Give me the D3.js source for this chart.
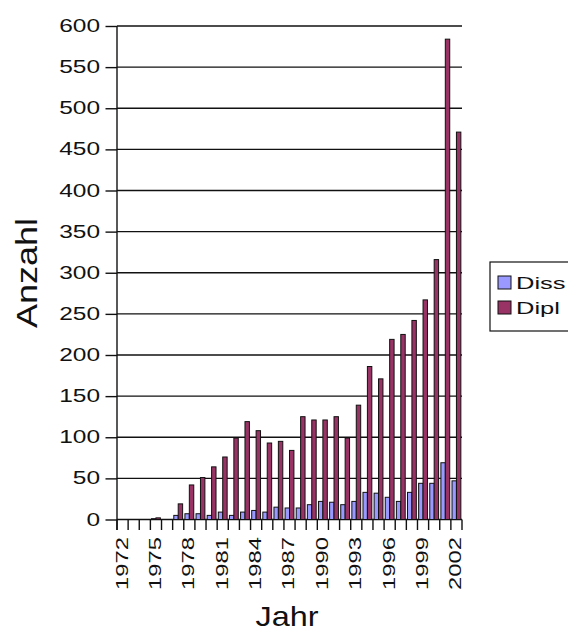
<!DOCTYPE html>
<html>
<head>
<meta charset="utf-8">
<script src="https://cdn.jsdelivr.net/npm/d3@7/dist/d3.min.js"></script>
<style>
  html, body { margin: 0; padding: 0; background: #fff; }
  svg { display: block; font-family: "Liberation Sans", Arial, sans-serif; }
</style>
</head>
<body>
<script>
// Abschlussarbeiten pro Jahr
const years = ["1972","1973","1974","1975","1976","1977","1978","1979","1980","1981",
               "1982","1983","1984","1985","1986","1987","1988","1989","1990","1991",
               "1992","1993","1994","1995","1996","1997","1998","1999","2000","2001","2002"];
const seriesNames = ["Diss", "Dipl"];
const diss = [0,0,0,1,0,5,7,7,5,9,5,9,11,9,15,14,14,18,22,21,18,22,33,32,27,22,33,44,44,69,47];
const dipl = [0,0,0,2,0,19,42,51,64,76,99,119,108,93,95,84,125,121,121,125,99,139,186,171,219,225,242,267,316,584,471];
const yTicks = [0,50,100,150,200,250,300,350,400,450,500,550,600];
const yearLabels = ["1972","1975","1978","1981","1984","1987","1990","1993","1996","1999","2002"];
const colors = { Diss: "#9999ff", Dipl: "#993366" };

const W = 568, H = 639;
const svg = d3.select("body").append("svg").attr("width", W).attr("height", H);
svg.append("rect").attr("width", W).attr("height", H).attr("fill", "#fff");

const x = d3.scaleBand().domain(years).range([117, 462]).padding(0);
const xs = d3.scaleBand().domain(seriesNames).range([0, x.bandwidth()])
  .paddingInner(0).paddingOuter(0.26);
const y = d3.scaleLinear().domain([0, 600]).range([519.5, 26]);

const stretch = 1.4;

// horizontal grid lines
svg.append("g").selectAll("line").data(yTicks).join("line")
  .attr("x1", 117).attr("x2", 462)
  .attr("y1", d => y(d)).attr("y2", d => y(d))
  .attr("stroke", "#111").attr("stroke-width", 1.4);

// y axis
const yAxis = svg.append("g").attr("transform", "translate(117,0)")
  .call(d3.axisLeft(y).tickValues(yTicks).tickSize(11.5).tickPadding(0));
yAxis.select(".domain").remove();
yAxis.selectAll(".tick line").attr("stroke", "#111").attr("stroke-width", 1.4);
yAxis.selectAll(".tick text")
  .attr("font-size", 17.5).attr("fill", "#111")
  .attr("font-family", "Liberation Sans, Arial, sans-serif")
  .attr("x", -17 / stretch)
  .attr("transform", `scale(${stretch},1)`);
svg.append("line").attr("x1", 117).attr("x2", 117).attr("y1", 26).attr("y2", 530)
  .attr("stroke", "#111").attr("stroke-width", 1.4);

// bars
const groups = svg.append("g").selectAll("g").data(years).join("g")
  .attr("transform", d => `translate(${x(d)},0)`);
groups.selectAll("rect")
  .data((d, i) => [{ s: "Diss", v: diss[i] }, { s: "Dipl", v: dipl[i] }].filter(e => e.v > 0))
  .join("rect")
  .attr("x", e => xs(e.s))
  .attr("width", xs.bandwidth())
  .attr("y", e => y(e.v))
  .attr("height", e => y(0) - y(e.v))
  .attr("fill", e => colors[e.s])
  .attr("stroke", "#111").attr("stroke-width", 1);

// category boundary ticks on the x axis
const bounds = years.map(d => x(d)).concat([x.range()[1]]);
svg.append("g").selectAll("line").data(bounds).join("line")
  .attr("x1", d => d).attr("x2", d => d).attr("y1", y(0)).attr("y2", 530)
  .attr("stroke", "#111").attr("stroke-width", 1.4);

// x tick labels (rotated)
svg.append("g").selectAll("text").data(yearLabels).join("text")
  .attr("transform", d => `translate(${x(d) + x.bandwidth() / 2 - 1},537) rotate(-90) scale(${stretch},1)`)
  .attr("text-anchor", "end").attr("dy", "0.35em")
  .attr("font-size", 17).attr("fill", "#111")
  .text(d => d);

// axis titles
svg.append("text")
  .attr("transform", `translate(37,273) rotate(-90) scale(1.2,1)`)
  .attr("text-anchor", "middle").attr("font-size", 30).attr("fill", "#111")
  .text("Anzahl");
svg.append("text")
  .attr("transform", `translate(287,626) scale(1.2,1)`)
  .attr("text-anchor", "middle").attr("font-size", 27).attr("fill", "#111")
  .text("Jahr");

// legend
const lg = svg.append("g");
lg.append("rect").attr("x", 490).attr("y", 262).attr("width", 100).attr("height", 69)
  .attr("fill", "#fff").attr("stroke", "#111").attr("stroke-width", 1.2);
seriesNames.forEach((s, i) => {
  lg.append("rect").attr("x", 498).attr("y", 276 + i * 25).attr("width", 13).attr("height", 13)
    .attr("fill", colors[s]).attr("stroke", "#111").attr("stroke-width", 1);
  lg.append("text")
    .attr("transform", `translate(516,${289 + i * 25}) scale(1.5,1)`)
    .attr("font-size", 17).attr("fill", "#111").text(s);
});
</script>
</body>
</html>
